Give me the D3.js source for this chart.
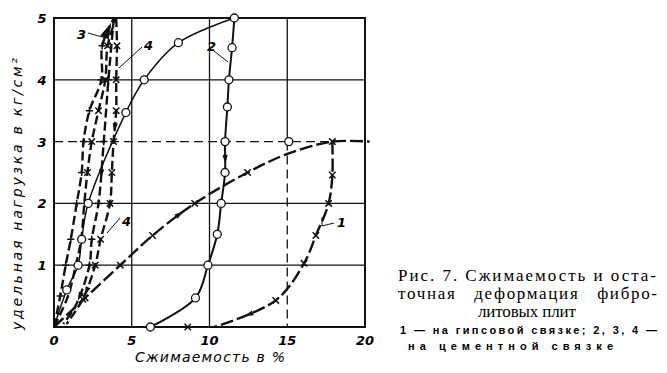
<!DOCTYPE html>
<html>
<head>
<meta charset="utf-8">
<script src="https://cdn.jsdelivr.net/npm/d3@7"></script>
<style>
  body { margin: 0; background: #fff; }
  svg { display: block; }
  .tick { font-family: "DejaVu Sans", sans-serif; font-style: italic; font-weight: bold; font-size: 13px; }
  .title { font-family: "DejaVu Sans", sans-serif; font-style: italic; font-size: 14px; }
  .cap { font-family: "Liberation Serif", serif; font-size: 17px; }
  .capSmall { font-family: "Liberation Sans", sans-serif; font-size: 11px; font-weight: bold; }
</style>
</head>
<body>
<svg id="chart" width="667" height="373"></svg>
<script>
// ticks
const xTicks = [0, 5, 10, 15, 20]
const yTicks = [1, 2, 3, 4, 5]

// 1 — gypsum binder (x marks)
const s1Load = [[0, 0], [2.0, 0.47], [4.26, 1.0], [6.34, 1.48], [9.05, 2.0], [12.45, 2.5], [15.0, 2.8], [17.9, 3.0], [20.3, 3.0]]
const s1LoadMarks = [[2.0, 0.47], [4.26, 1.0], [6.34, 1.48], [9.05, 2.0], [12.45, 2.5], [17.9, 3.0]]
const s1Unload = [[17.9, 3.0], [17.9, 2.46], [17.66, 2.0], [16.84, 1.48], [16.08, 1.03], [14.26, 0.43], [10.3, 0]]
const s1UnloadMarks = [[17.9, 2.46], [17.66, 2.0], [16.84, 1.48], [16.08, 1.03], [14.26, 0.43], [8.6, 0]]

// 2 — cement binder (circles)
const s2Load = [[0, 0], [0.82, 0.6], [1.55, 1.0], [1.78, 1.42], [2.2, 2.0], [4.62, 3.47], [5.8, 4.0], [8.0, 4.6], [11.6, 5.0]]
const s2Unload = [[11.6, 5.0], [11.45, 4.52], [11.25, 4.0], [11.15, 3.56], [11.0, 3.0], [11.0, 2.5], [10.75, 2.0], [10.5, 1.5], [9.9, 1.0], [9.1, 0.47], [6.2, 0]]
const s2Extra = [[15.1, 3.0]]

// 3 — cement binder (+ marks)
const s3Load = [[0, 0], [0.4, 0.5], [0.75, 1.0], [1.08, 1.42], [1.46, 2.0], [1.78, 2.5], [1.9, 3.0], [2.28, 3.5], [3.05, 4.0], [3.1, 4.55], [3.85, 5.0]]
const s3Unload = [[3.85, 5.0], [3.5, 4.0], [3.2, 3.0], [2.86, 2.0], [2.43, 1.42], [2.28, 1.0], [1.4, 0.35], [0.6, 0.05]]

// 4 — cement binder (x marks)
const s4Load = [[0, 0], [0.9, 0.5], [1.4, 1.0], [1.75, 1.42], [1.95, 2.0], [2.15, 2.5], [2.43, 3.0], [2.86, 3.5], [3.3, 4.0], [3.45, 4.55], [4.0, 5.0]]
const s4Unload = [[4.0, 5.0], [4.05, 4.55], [4.0, 4.0], [4.0, 3.5], [3.83, 3.0], [3.72, 2.5], [3.6, 2.0], [3.0, 1.42], [2.65, 1.0], [1.85, 0.45], [0.8, 0.05]]

const captionLines = ["Рис. 7. Сжимаемость и оста-", "точная   деформация   фибро-", "литовых плит"]
const noteLines = ["1 — на гипсовой связке; 2, 3, 4 —", "на цементной связке"]

const svg = d3.select("#chart")
const x = d3.scaleLinear().domain([0, 20]).range([54, 365])
const y = d3.scaleLinear().domain([0, 5]).range([327, 18])

const g = svg.append("g")

// grid
const grid = g.append("g").attr("stroke", "#111").attr("stroke-width", 1.3)
;[5, 10].forEach(v => grid.append("line").attr("x1", x(v)).attr("x2", x(v)).attr("y1", y(0)).attr("y2", y(5)))
grid.append("line").attr("x1", x(15)).attr("x2", x(15)).attr("y1", y(5)).attr("y2", y(3))
grid.append("line").attr("x1", x(15)).attr("x2", x(15)).attr("y1", y(3)).attr("y2", y(0)).attr("stroke-dasharray", "9,5")
;[1, 2, 4].forEach(v => grid.append("line").attr("x1", x(0)).attr("x2", x(20)).attr("y1", y(v)).attr("y2", y(v)))
grid.append("line").attr("x1", x(0)).attr("x2", x(17.9)).attr("y1", y(3)).attr("y2", y(3)).attr("stroke-dasharray", "9,5")

// frame
g.append("rect").attr("x", x(0)).attr("y", y(5)).attr("width", x(20) - x(0)).attr("height", y(0) - y(5))
    .attr("fill", "none").attr("stroke", "#111").attr("stroke-width", 2)

// ticks labels
g.append("g").selectAll("text").data(xTicks).join("text").attr("class", "tick")
    .attr("x", d => x(d)).attr("y", 345).attr("text-anchor", "middle").text(d => d)
g.append("g").selectAll("text").data(yTicks).join("text").attr("class", "tick")
    .attr("x", 42).attr("y", d => y(d) + 5).attr("text-anchor", "middle").text(d => d)

g.append("text").attr("class", "title").attr("x", 210).attr("y", 362).attr("text-anchor", "middle")
    .attr("textLength", 150).text("Сжимаемость в %")
g.append("text").attr("class", "title").attr("transform", "translate(22,194) rotate(-90)")
    .attr("text-anchor", "middle").attr("textLength", 272).text("удельная  нагрузка  в кг/см²")

const line = d3.line().x(d => x(d[0])).y(d => y(d[1])).curve(d3.curveCatmullRom.alpha(0.5))
const curves = g.append("g").attr("fill", "none").attr("stroke", "#111")

function drawCurve(data, width, dash) {
    return curves.append("path").attr("d", line(data)).attr("stroke-width", width)
        .attr("stroke-dasharray", dash)
}

drawCurve(s1Load, 2.4, "13,4")
drawCurve(s1Unload, 2.4, "13,4")
drawCurve(s2Load, 1.5, null)
drawCurve(s2Unload, 2, null)
drawCurve(s3Load, 2.4, "9,4")
drawCurve(s3Unload, 2.4, "9,4")
drawCurve(s4Load, 2.4, "9,4")
drawCurve(s4Unload, 2.4, "9,4")

// markers
const marks = g.append("g").attr("stroke", "#111").attr("stroke-width", 1.5)
function crosses(data) {
    const s = 3.2
    marks.append("g").selectAll("path").data(data).join("path")
        .attr("d", d => `M${x(d[0]) - s},${y(d[1]) - s}L${x(d[0]) + s},${y(d[1]) + s}M${x(d[0]) - s},${y(d[1]) + s}L${x(d[0]) + s},${y(d[1]) - s}`)
}
function pluses(data) {
    const s = 3.6
    marks.append("g").selectAll("path").data(data).join("path")
        .attr("d", d => `M${x(d[0]) - s},${y(d[1])}L${x(d[0]) + s},${y(d[1])}M${x(d[0])},${y(d[1]) - s}L${x(d[0])},${y(d[1]) + s}`)
}
function circles(data) {
    marks.append("g").selectAll("circle").data(data).join("circle")
        .attr("cx", d => x(d[0])).attr("cy", d => y(d[1])).attr("r", 4)
        .attr("fill", "#fff").attr("stroke-width", 1.3)
}

crosses(s1LoadMarks)
crosses(s1UnloadMarks)
circles(s2Load.slice(1))
circles(s2Unload.slice(1))
circles(s2Extra)
pluses(s3Load.slice(1, -1))
pluses(s3Unload.slice(1, -2))
crosses(s4Load.slice(1, -1).filter(d => d[1] >= 2.5))
crosses(s4Unload.slice(1, -1))

// arrowheads along the curves
function arrowOn(data, t, k = 1) {
    const p = d3.select(document.createElementNS("http://www.w3.org/2000/svg", "path")).attr("d", line(data))
    curves.node().appendChild(p.node())
    const node = p.node()
    const L = node.getTotalLength()
    const a = node.getPointAtLength(L * t)
    const b = node.getPointAtLength(L * t + 2)
    p.remove()
    const ang = Math.atan2(b.y - a.y, b.x - a.x) * 180 / Math.PI
    g.append("path").attr("d", `M${4 * k},0L${-5 * k},${-2.6 * k}L${-5 * k},${2.6 * k}Z`).attr("fill", "#111")
        .attr("transform", `translate(${a.x},${a.y}) rotate(${ang})`)
}
arrowOn(s1Load, 0.45)
arrowOn(s1Unload, 0.85)
arrowOn(s2Unload, 0.42)
arrowOn(s3Load, 0.96, 1.8)
arrowOn(s3Unload, 0.5)
arrowOn(s3Unload, 0.9)
arrowOn(s4Unload, 0.35)
arrowOn(s4Unload, 0.88)

// curve labels with leaders
const lab = g.append("g")
function label(t, lx, ly, pts) {
    lab.append("text").attr("class", "tick").attr("x", lx).attr("y", ly).text(t)
    lab.append("path").attr("d", d3.line()(pts)).attr("fill", "none").attr("stroke", "#111").attr("stroke-width", 1)
}
label("3", 77, 39, [[88, 33], [106, 38]])
label("4", 144, 50, [[142, 47], [119, 68]])
label("4", 122, 226, [[120, 218], [107, 233]])
label("2", 207, 51, [[214, 51], [228, 62]])
label("1", 337, 227, [[322, 217], [322, 226], [334, 223]])

// caption
const cap = svg.append("g")
cap.append("text").attr("class", "cap").attr("x", 398).attr("y", 281).attr("textLength", 258).text(captionLines[0])
cap.append("text").attr("class", "cap").attr("x", 398).attr("y", 299).attr("textLength", 259).attr("xml:space", "preserve").text(captionLines[1])
cap.append("text").attr("class", "cap").attr("x", 478).attr("y", 317).attr("textLength", 98).text(captionLines[2])
cap.append("text").attr("class", "capSmall").attr("x", 400).attr("y", 334).attr("textLength", 257).text(noteLines[0])
cap.append("text").attr("class", "capSmall").attr("x", 408).attr("y", 350).attr("textLength", 205).text(noteLines[1])
</script>
</body>
</html>
